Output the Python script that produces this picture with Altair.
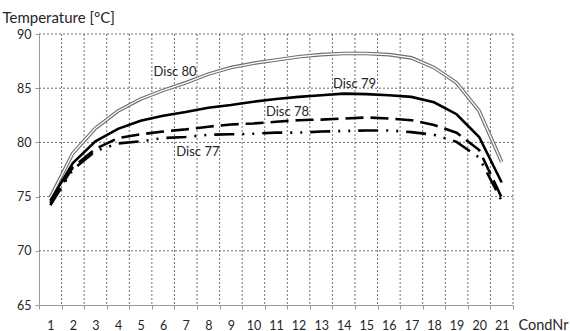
import altair as alt
import pandas as pd

# ---- data ----
cond = list(range(1, 22))
disc80 = [74.9, 79.0, 81.3, 82.9, 84.0, 84.8, 85.5, 86.3, 86.9, 87.3, 87.6,
          87.9, 88.1, 88.2, 88.2, 88.1, 87.8, 86.9, 85.5, 82.9, 78.2]
disc79 = [74.6, 78.1, 80.1, 81.25, 82.0, 82.45, 82.8, 83.2, 83.45, 83.75, 84.0,
          84.2, 84.35, 84.5, 84.45, 84.35, 84.2, 83.7, 82.6, 80.5, 76.3]
disc78 = [74.4, 77.7, 79.4, 80.4, 80.75, 81.0, 81.2, 81.45, 81.65, 81.75, 81.9,
          82.05, 82.1, 82.2, 82.3, 82.2, 82.05, 81.6, 80.9, 79.3, 74.9]
disc77 = [74.2, 77.5, 79.2, 79.9, 80.1, 80.4, 80.5, 80.7, 80.75, 80.8, 80.9,
          80.9, 81.0, 81.05, 81.1, 81.1, 80.95, 80.7, 80.05, 78.6, 74.6]

y_ticks = [65, 70, 75, 80, 85, 90]
x_bounds = [c - 0.5 for c in cond] + [cond[-1] + 0.5]

label_text = ["Disc 80", "Disc 79", "Disc 78", "Disc 77"]
label_x = [6.53, 14.48, 11.51, 7.54]
label_y = [86.5, 85.4, 82.83, 79.13]

df = pd.DataFrame({"CondNr": cond, "d80": disc80, "d79": disc79,
                   "d78": disc78, "d77": disc77})
vgrid_df = pd.DataFrame({"b": x_bounds[1:]})
hgrid_df = pd.DataFrame({"v": y_ticks[1:]})
lab_df = pd.DataFrame({"t": label_text, "lx": label_x, "ly": label_y})

FONT = "Lato"
TXT = "#262626"
AX = "#9a9a9a"
GRID = "#707070"

x_scale = alt.Scale(domain=[0.5, 21.5], nice=False, zero=False)
y_scale = alt.Scale(domain=[65, 90], nice=False, zero=False)

x_axis = alt.Axis(
    values=x_bounds, grid=False, tickSize=4, tickColor=AX, domainColor=AX,
    labelExpr="datum.value < 21 ? format(datum.value + 0.5, 'd') : ''",
    labelOffset=11.3, labelFlush=False, labelPadding=20,
    labelBaseline="alphabetic", labelFont=FONT, labelFontSize=12.5,
    labelColor=TXT, title="CondNr", titleX=479, titleY=24,
    titleAlign="left", titleBaseline="alphabetic", titleFont=FONT,
    titleFontSize=14.5, titleFontWeight="normal", titleColor=TXT,
)
y_axis = alt.Axis(
    values=y_ticks, grid=False, tickSize=4, tickColor=AX, domainColor=AX,
    labelPadding=4, labelFont=FONT, labelFontSize=12.5, labelColor=TXT,
    title="Temperature [°C]", titleAngle=0, titleX=-37, titleY=-12,
    titleAlign="left", titleBaseline="alphabetic", titleFont=FONT,
    titleFontSize=15, titleFontWeight="normal", titleColor=TXT,
)


def X(field):
    return alt.X(f"{field}:Q", scale=x_scale, axis=x_axis, title="CondNr")


def Y(field):
    return alt.Y(f"{field}:Q", scale=y_scale, axis=y_axis, title="Temperature [°C]")


vgrid = alt.Chart(vgrid_df).mark_rule(color=GRID, strokeDash=[2, 2], strokeWidth=1).encode(
    x=X("b"))
hgrid = alt.Chart(hgrid_df).mark_rule(color=GRID, strokeDash=[2, 2], strokeWidth=1).encode(
    y=Y("v"))

base = alt.Chart(df)
l80a = base.mark_line(color="#6e6e6e", strokeWidth=3.6).encode(x=X("CondNr"), y=Y("d80"))
l80b = base.mark_line(color="white", strokeWidth=1.3).encode(x=X("CondNr"), y=Y("d80"))
l79 = base.mark_line(color="black", strokeWidth=2.6).encode(x=X("CondNr"), y=Y("d79"))
l78 = base.mark_line(color="black", strokeWidth=2.6, strokeDash=[18, 7],
                     strokeCap="butt").encode(x=X("CondNr"), y=Y("d78"))
l77 = base.mark_line(color="black", strokeWidth=2.6, strokeDash=[20, 8, 2, 8, 2, 8],
                     strokeCap="butt").encode(x=X("CondNr"), y=Y("d77"))

labels = alt.Chart(lab_df).mark_text(font=FONT, fontSize=13, color=TXT,
                                     align="center", baseline="middle").encode(
    x=X("lx"), y=Y("ly"), text="t:N")

chart = alt.layer(vgrid, hgrid, l80a, l80b, l79, l78, l77, labels).properties(
    width=474, height=271,
    autosize=alt.AutoSizeParams(type="none"),
    padding={"left": 39, "top": 34, "right": 57, "bottom": 26},
    background="white",
).configure_view(stroke=None)

chart.save("out.html", embed_options={"renderer": "svg", "actions": False})
